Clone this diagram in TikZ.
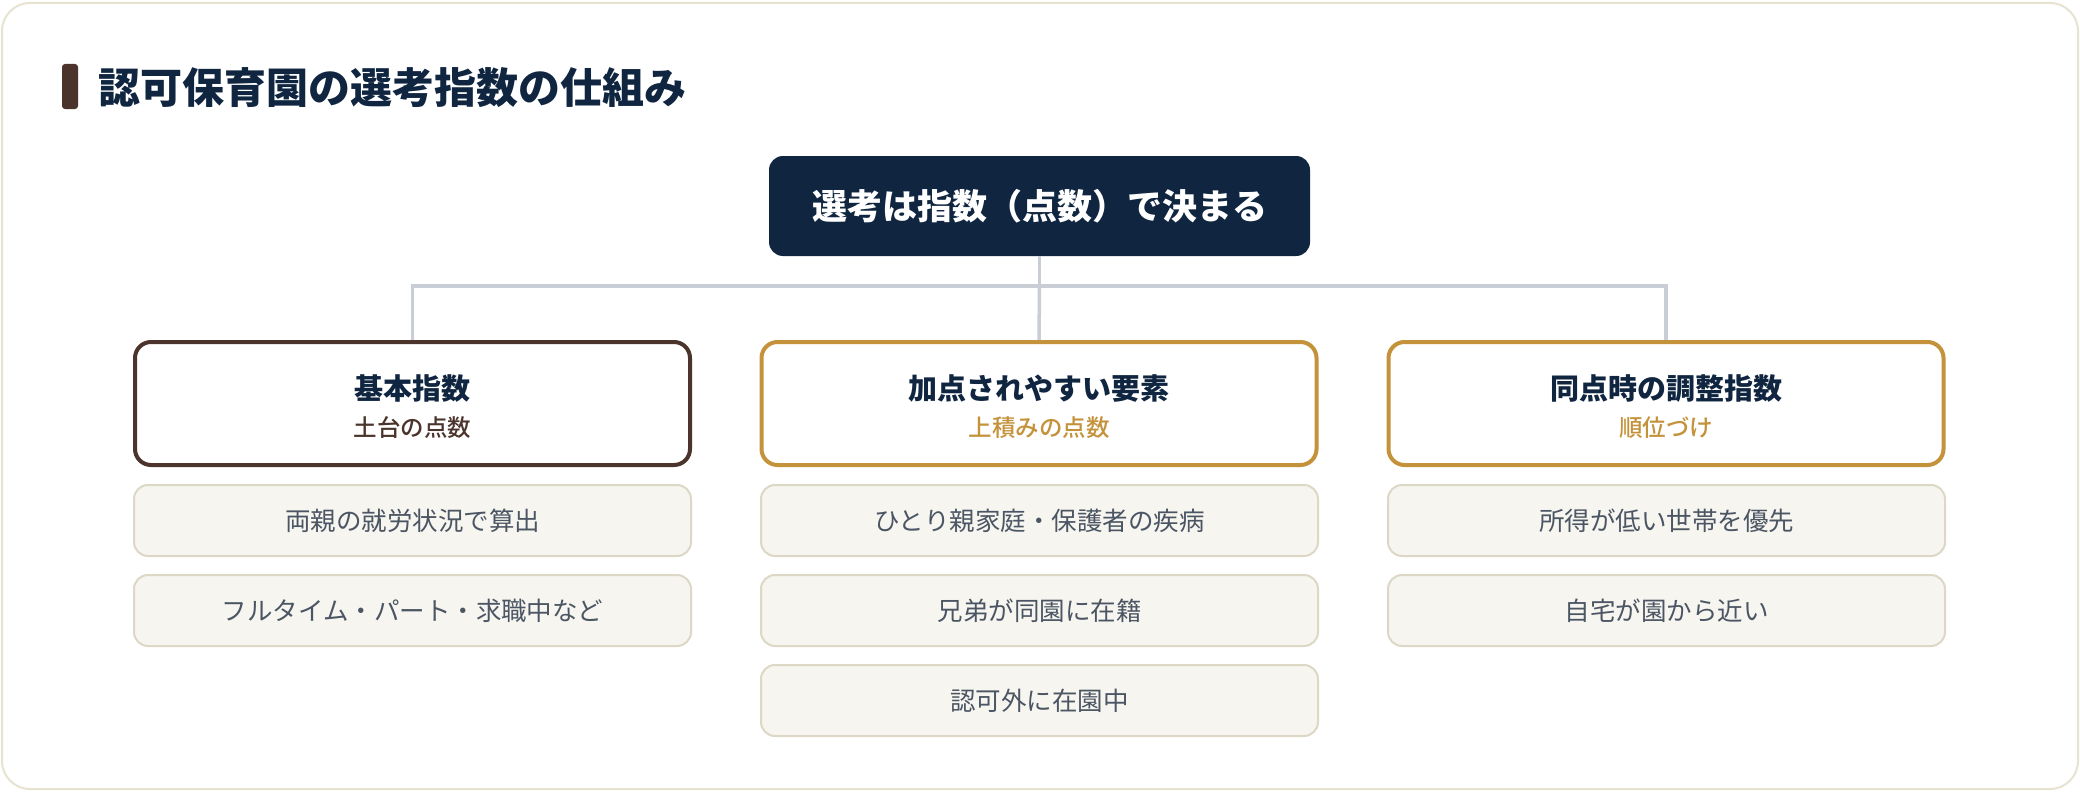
\documentclass[tikz,border=0pt]{standalone}
\usepackage{fontspec}
\setmainfont{Noto Sans CJK JP}
\newfontfamily\heavyfont{Noto Sans CJK JP}[UprightFont=* Black]
\newfontfamily\midfont{Noto Sans CJK JP}[UprightFont=* Medium]
\definecolor{navy}{HTML}{0F2540}
\definecolor{bark}{HTML}{4A342C}
\definecolor{gold}{HTML}{C4923A}
\definecolor{slate}{HTML}{4B5563}
\definecolor{cream}{HTML}{F6F5EF}
\definecolor{creamline}{HTML}{DDD8C6}
\definecolor{linkgray}{HTML}{C8CDD6}
\definecolor{cardline}{HTML}{E6E3D3}
\begin{document}
\begin{tikzpicture}[x=1pt, y=-1pt,
    link/.style={draw=linkgray, line width=3.5pt},
    catbox/.style={draw=#1, line width=4pt, fill=white, rounded corners=16pt,
      minimum width=555pt, minimum height=123pt, inner sep=0pt},
    itembox/.style={draw=creamline, line width=2pt, fill=cream, rounded corners=14pt,
      minimum width=557pt, minimum height=71pt, inner sep=0pt,
      text=slate, font=\fontsize{25.5}{30}\selectfont},
    cattitle/.style={text=navy, font=\fontsize{29}{34}\selectfont\bfseries, inner sep=0pt},
    catsub/.style={text=#1, font=\midfont\fontsize{23.5}{28}\selectfont, inner sep=0pt}]
  \useasboundingbox (0,0) rectangle (2080,792);
  % card
  \draw[draw=cardline, line width=2pt, fill=white, rounded corners=28pt] (2,3) rectangle (2078,789);
  \fill[bark, rounded corners=3pt] (62,64) rectangle (78,109);
  \node[anchor=west, inner sep=0pt, text=navy, font=\heavyfont\fontsize{42}{48}\selectfont] (title) at (98,88) {認可保育園の選考指数の仕組み};
  % top
  \node[fill=navy, rounded corners=14pt, minimum width=541pt, minimum height=100pt,
    text=white, font=\fontsize{35}{40}\selectfont\bfseries] (top) at (1039.5,206) {選考は指数（点数）で決まる};
  % categories
  \node[catbox=bark] (cat1) at (412.5,403.5){};
  \node[catbox=gold] (cat2) at (1039,403.5){};
  \node[catbox=gold] (cat3) at (1666,403.5){};
  \node[cattitle] (cat1t) at (412.5,389) {基本指数};
  \node[catsub=bark] (cat1s) at (412.5,428) {土台の点数};
  \node[cattitle] (cat2t) at (1039,389) {加点されやすい要素};
  \node[catsub=gold] (cat2s) at (1039,428) {上積みの点数};
  \node[cattitle] (cat3t) at (1666,389) {同点時の調整指数};
  \node[catsub=gold] (cat3s) at (1666,428) {順位づけ};
  % connectors
  \coordinate (hub) at (1039.5,286);
  \draw[link] (top.south) -- (hub);
  \draw[link] (cat1.north) -- (cat1.north |- hub) -- (cat3.north |- hub) -- (cat3.north);
  \draw[link] (hub) -- (cat2.north);
  % items
  \node[itembox] (item11) at (412.5,520.5) {両親の就労状況で算出};
  \node[itembox] (item12) at (412.5,610.5) {フルタイム・パート・求職中など};
  \node[itembox] (item21) at (1039.5,520.5) {ひとり親家庭・保護者の疾病};
  \node[itembox] (item22) at (1039.5,610.5) {兄弟が同園に在籍};
  \node[itembox] (item23) at (1039.5,700.5) {認可外に在園中};
  \node[itembox] (item31) at (1666.5,520.5) {所得が低い世帯を優先};
  \node[itembox] (item32) at (1666.5,610.5) {自宅が園から近い};
\end{tikzpicture}
\end{document}
